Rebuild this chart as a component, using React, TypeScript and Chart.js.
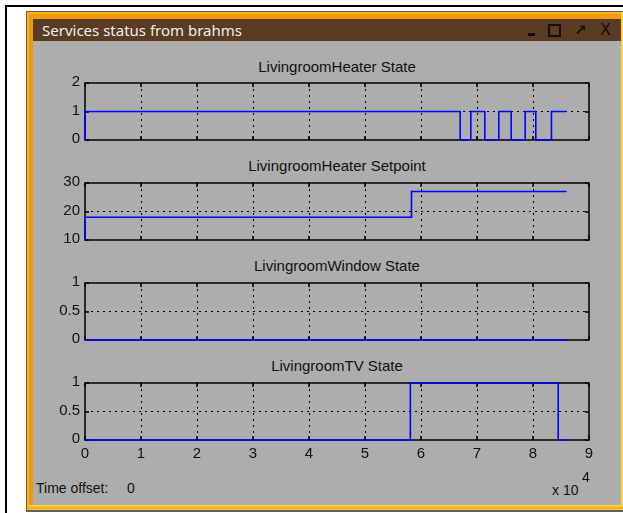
import React, { useEffect, useRef } from 'react';
import { Chart, registerables } from 'chart.js';

Chart.register(...registerables);

// ---- Data (time in seconds, axis shows x 10^4) ----
const xMaxTime = 90000;
const xStep = 10000;

const heaterStateTimes = [0, 0, 67000, 68900, 71400, 73900, 76100, 78600, 80500, 83300, 86000];
const heaterStateValues = [0, 1, 0, 1, 0, 1, 0, 1, 0, 1, 1];

const heaterSetpointTimes = [0, 0, 58300, 86000];
const heaterSetpointValues = [10, 18, 27, 27];

const windowStateTimes = [0, 86000];
const windowStateValues = [0, 0];

const tvStateTimes = [0, 58100, 84500, 86000];
const tvStateValues = [0, 1, 0, 0];

const subplotTitles = [
  'LivingroomHeater State',
  'LivingroomHeater Setpoint',
  'LivingroomWindow State',
  'LivingroomTV State',
];

const windowTitle = 'Services status from brahms';
const timeOffsetLabel = 'Time offset:';
const timeOffsetValue = '0';

const FONT = '"Liberation Sans", Arial, sans-serif';
const BLUE = '#0000ff';

const framePlugin = {
  id: 'matlabFrame',
  beforeDatasetsDraw(chart: any) {
    const { ctx, chartArea: a, scales } = chart;
    ctx.save();
    ctx.strokeStyle = '#000';
    ctx.lineWidth = 1.5;
    ctx.strokeRect(a.left, a.top, a.right - a.left, a.bottom - a.top);
    const L = 4;
    ctx.beginPath();
    scales.x.ticks.forEach((t: any) => {
      const px = Math.round(scales.x.getPixelForValue(t.value));
      ctx.moveTo(px, a.top);
      ctx.lineTo(px, a.top + L);
      ctx.moveTo(px, a.bottom);
      ctx.lineTo(px, a.bottom - L);
    });
    scales.y.ticks.forEach((t: any) => {
      const py = Math.round(scales.y.getPixelForValue(t.value));
      ctx.moveTo(a.left, py);
      ctx.lineTo(a.left + L, py);
      ctx.moveTo(a.right, py);
      ctx.lineTo(a.right - L, py);
    });
    ctx.stroke();
    ctx.restore();
  },
};

type PlotProps = {
  times: number[];
  values: number[];
  yMin: number;
  yMax: number;
  yStep: number;
  showX: boolean;
  top: number;
  height: number;
};

function Plot({ times, values, yMin, yMax, yStep, showX, top, height }: PlotProps) {
  const ref = useRef<HTMLCanvasElement | null>(null);
  useEffect(() => {
    if (!ref.current) return;
    const interior = (min: number, max: number) => (c: any) =>
      c.tick && c.tick.value > min && c.tick.value < max ? '#000' : 'rgba(0,0,0,0)';
    const chart = new Chart(ref.current, {
      type: 'line',
      data: {
        datasets: [
          {
            data: times.map((t, i) => ({ x: t, y: values[i] })),
            borderColor: BLUE,
            borderWidth: 1.6,
            pointRadius: 0,
            stepped: 'before',
            fill: false,
            clip: 3,
          },
        ],
      },
      options: {
        animation: false,
        responsive: false,
        maintainAspectRatio: false,
        layout: { padding: { left: 0, right: 11, top: 14, bottom: showX ? 0 : 14 } },
        plugins: { legend: { display: false }, tooltip: { enabled: false }, title: { display: false } },
        scales: {
          x: {
            type: 'linear',
            min: 0,
            max: xMaxTime,
            afterFit: (s: any) => {
              s.height = showX ? 30 : 0;
            },
            ticks: {
              display: showX,
              stepSize: xStep,
              autoSkip: false,
              maxRotation: 0,
              padding: 5,
              color: '#111',
              font: { family: FONT, size: 15 },
              callback: (v: any) => String(Math.round(Number(v) / xStep)),
            },
            grid: { drawTicks: false, color: interior(0, xMaxTime), lineWidth: 1 },
            border: { display: false, dash: [2, 4] },
          },
          y: {
            type: 'linear',
            min: yMin,
            max: yMax,
            afterFit: (s: any) => {
              s.width = 50;
            },
            ticks: {
              stepSize: yStep,
              padding: 5,
              color: '#111',
              font: { family: FONT, size: 15 },
              labelOffset: -1,
              callback: (v: any) => String(Number(v)),
            },
            grid: { drawTicks: false, color: interior(yMin, yMax), lineWidth: 1 },
            border: { display: false, dash: [2, 4] },
          },
        },
      },
      plugins: [framePlugin],
    } as any);
    return () => chart.destroy();
  }, []);
  return (
    <canvas
      ref={ref}
      width={565}
      height={height}
      style={{ position: 'absolute', left: 35, top, width: 565, height }}
    />
  );
}

export default function App() {
  const titleTops = [59, 158, 258, 358];
  return (
    <div style={{ position: 'absolute', left: 0, top: 0, width: 623, height: 513, background: '#fff', overflow: 'hidden' }}>
      {/* outer black lines */}
      <div style={{ position: 'absolute', left: 5, top: 5, width: 618, height: 2, background: '#000' }} />
      <div style={{ position: 'absolute', left: 5, top: 5, width: 2, height: 508, background: '#000' }} />
      {/* window frame */}
      <div style={{ position: 'absolute', left: 26, top: 11, width: 600, height: 501, background: '#5e5e5e' }} />
      <div
        style={{
          position: 'absolute',
          left: 27,
          top: 12,
          width: 600,
          height: 498,
          background: '#f29a0e',
          boxShadow: 'inset 2px 2px 0 #f7b21c, inset -2px -2px 0 #ffcf3a',
        }}
      />
      <div style={{ position: 'absolute', left: 621, top: 12, width: 2, height: 498, background: '#ffd24a' }} />
      <div style={{ position: 'absolute', left: 29, top: 505, width: 594, height: 4, background: 'linear-gradient(#ffd84a, #f0a514)' }} />
      {/* title bar */}
      <div style={{ position: 'absolute', left: 33, top: 19, width: 588, height: 22, background: '#593c22' }} />
      <div
        style={{
          position: 'absolute',
          left: 42,
          top: 20,
          height: 20,
          lineHeight: '20px',
          fontFamily: '"Noto Sans", "Open Sans", sans-serif',
          fontSize: 15,
          color: '#eeeeee',
          whiteSpace: 'nowrap',
        }}
      >
        {windowTitle}
      </div>
      {/* window buttons */}
      <div style={{ position: 'absolute', left: 528, top: 33, width: 7, height: 3, background: '#111' }} />
      <div style={{ position: 'absolute', left: 548, top: 24, width: 9, height: 9, border: '2px solid #111' }} />
      <div
        style={{
          position: 'absolute',
          left: 574,
          top: 20,
          lineHeight: '20px',
          fontFamily: '"DejaVu Sans", sans-serif',
          fontWeight: 'bold',
          fontSize: 15,
          color: '#111',
        }}
      >
        ↗
      </div>
      <div
        style={{
          position: 'absolute',
          left: 600,
          top: 20,
          lineHeight: '20px',
          fontFamily: '"DejaVu Sans", sans-serif',
          fontSize: 16,
          color: '#111',
        }}
      >
        X
      </div>
      {/* content area */}
      <div style={{ position: 'absolute', left: 33, top: 41, width: 588, height: 464, background: '#adadad' }} />

      {subplotTitles.map((t, i) => (
        <div
          key={t}
          style={{
            position: 'absolute',
            left: 85,
            width: 504,
            top: titleTops[i],
            textAlign: 'center',
            lineHeight: '16px',
            fontFamily: FONT,
            fontSize: 15,
            color: '#111',
            whiteSpace: 'nowrap',
          }}
        >
          {t}
        </div>
      ))}

      <Plot times={heaterStateTimes} values={heaterStateValues} yMin={0} yMax={2} yStep={1} showX={false} top={69} height={85} />
      <Plot times={heaterSetpointTimes} values={heaterSetpointValues} yMin={10} yMax={30} yStep={10} showX={false} top={169} height={85} />
      <Plot times={windowStateTimes} values={windowStateValues} yMin={0} yMax={1} yStep={0.5} showX={false} top={269} height={85} />
      <Plot times={tvStateTimes} values={tvStateValues} yMin={0} yMax={1} yStep={0.5} showX={true} top={369} height={101} />

      {/* x 10^4 */}
      <div style={{ position: 'absolute', left: 552, top: 483, lineHeight: '14px', fontFamily: FONT, fontSize: 14, color: '#111', whiteSpace: 'nowrap' }}>
        x 10
      </div>
      <div style={{ position: 'absolute', left: 582, top: 470, lineHeight: '14px', fontFamily: FONT, fontSize: 14, color: '#111' }}>
        4
      </div>
      {/* time offset */}
      <div style={{ position: 'absolute', left: 36, top: 481, lineHeight: '14px', fontFamily: FONT, fontSize: 14, color: '#111', whiteSpace: 'nowrap' }}>
        {timeOffsetLabel}
      </div>
      <div style={{ position: 'absolute', left: 127, top: 481, lineHeight: '14px', fontFamily: FONT, fontSize: 14, color: '#111' }}>
        {timeOffsetValue}
      </div>
    </div>
  );
}
